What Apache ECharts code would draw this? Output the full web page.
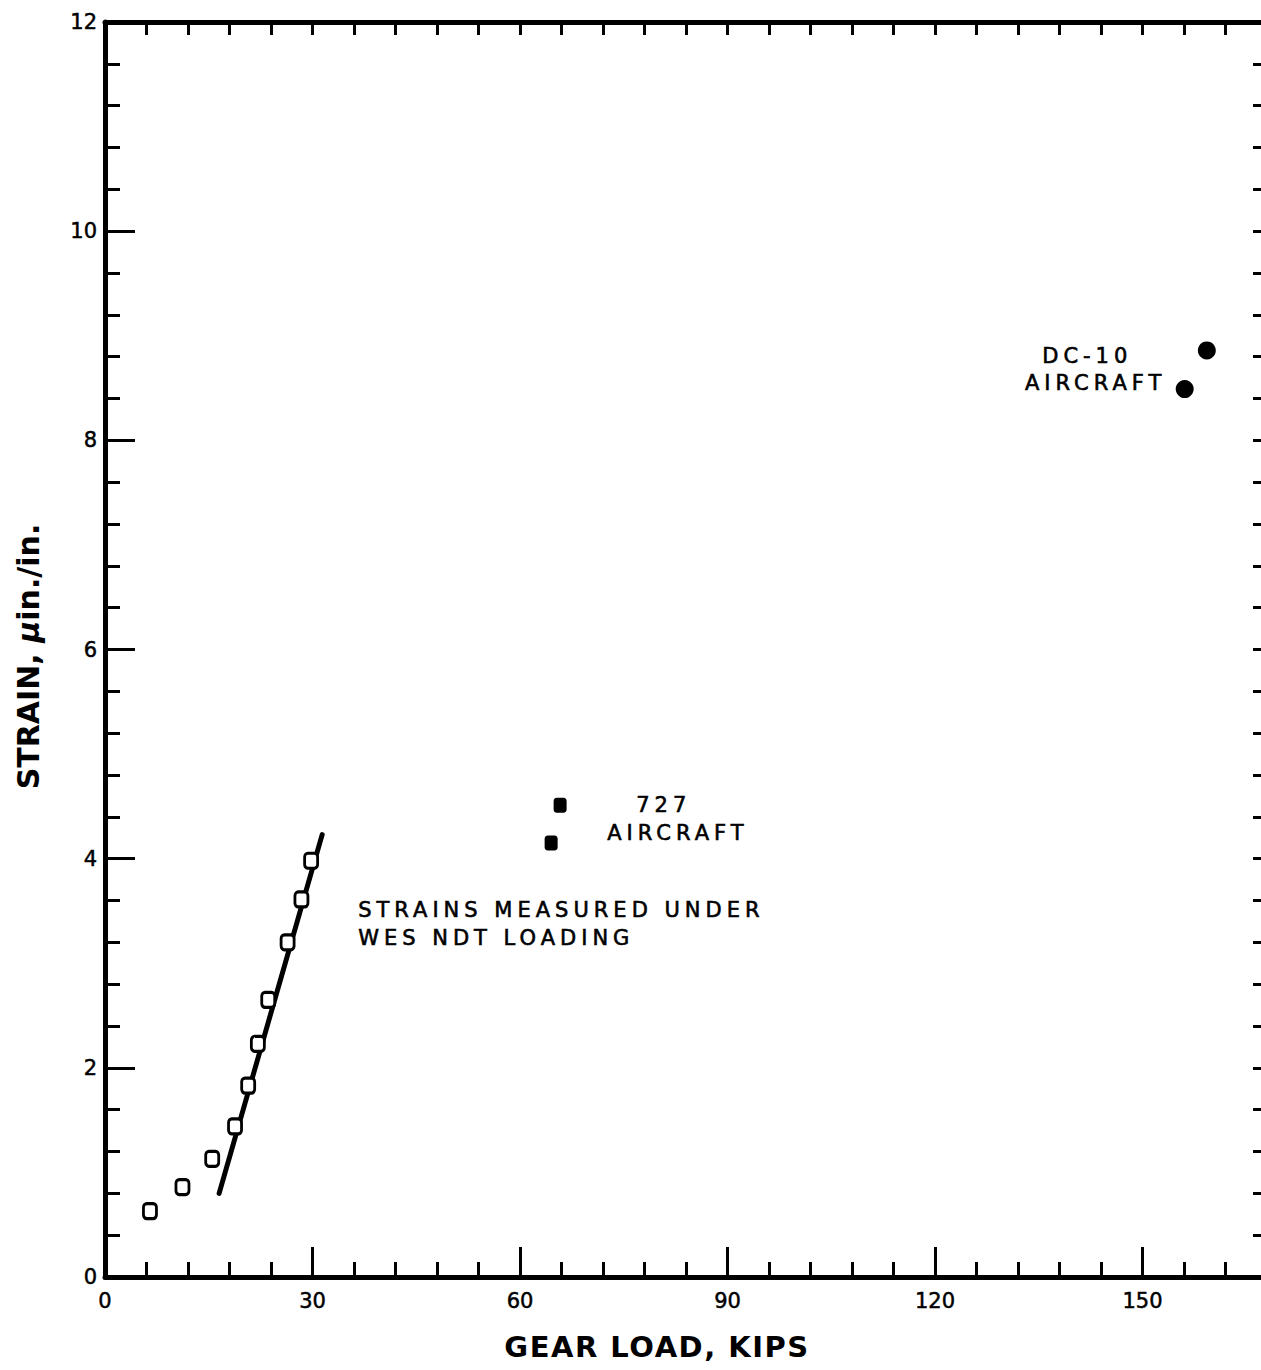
<!DOCTYPE html>
<html>
<head>
<meta charset="utf-8">
<script src="https://cdn.jsdelivr.net/npm/echarts@6/dist/echarts.min.js"></script>
<style>
  html, body { margin: 0; padding: 0; background: #fff; }
  #chart { width: 1261px; height: 1370px; }
</style>
</head>
<body>
<div id="chart"></div>
<script>
// Strains measured under WES NDT loading (open squares)
const ndtLoad   = [6.5, 11.2, 15.5, 18.8, 20.7, 22.1, 23.6, 26.4, 28.4, 29.8];
const ndtStrain = [0.63, 0.86, 1.13, 1.44, 1.83, 2.23, 2.65, 3.20, 3.61, 3.98];

// Straight-line fit through the upper NDT points
const fitLoad   = [16.5, 31.4];
const fitStrain = [0.80, 4.23];

// Aircraft passes
const b727Load   = [65.8, 64.5];
const b727Strain = [4.51, 4.15];
const dc10Load   = [159.3, 156.1];
const dc10Strain = [8.86, 8.49];

// Tick labels
const xTickLabels = [0, 30, 60, 90, 120, 150];
const yTickLabels = [0, 2, 4, 6, 8, 10, 12];

// Text notes, anchored by their left end in data units
const notes = [
  { text: '727',                    load: 76.8,  strain: 4.51 },
  { text: 'AIRCRAFT',               load: 72.6,  strain: 4.25 },
  { text: 'STRAINS MEASURED UNDER', load: 36.6,  strain: 3.51 },
  { text: 'WES NDT LOADING',        load: 36.6,  strain: 3.24 },
  { text: 'DC-10',                  load: 135.5, strain: 8.81 },
  { text: 'AIRCRAFT',               load: 133.0, strain: 8.55 }
];

const FONT = "'DejaVu Sans', sans-serif";
const INK = '#000';
const pairs = (xs, ys) => xs.map((x, i) => [x, ys[i]]);

const chart = echarts.init(document.getElementById('chart'), null, { renderer: 'svg', width: 1261, height: 1370 });

// The frame runs a few pixels past the right edge of the page.
const box = { left: 105, right: -6, top: 22, bottom: 93, outerBoundsMode: 'none', containLabel: false };
const xRange = { type: 'value', min: 0, max: 168 };
const yRange = { type: 'value', min: 0, max: 12 };
const noSplit = { splitLine: { show: false } };
const frameLine = { show: true, onZero: false, lineStyle: { color: INK, width: 5 } };
const hiddenLine = { show: false, onZero: false };
const tick = len => ({ show: true, inside: true, length: len, lineStyle: { color: INK, width: 3 } });
const tickText = { color: INK, fontFamily: FONT, fontSize: 21, textBorderColor: INK, textBorderWidth: 0.5 };

const option = {
  backgroundColor: '#fff',
  animation: false,
  grid: [Object.assign({}, box), Object.assign({}, box), Object.assign({}, box)],
  xAxis: [
    Object.assign({ gridIndex: 0, position: 'bottom', interval: 6,
      axisLine: frameLine, axisTick: tick(15), axisLabel: { show: false } }, xRange, noSplit),
    Object.assign({ gridIndex: 1, position: 'bottom', interval: 30,
      axisLine: hiddenLine, axisTick: tick(30),
      axisLabel: Object.assign({ show: true, margin: 13, showMaxLabel: false,
        formatter: v => (xTickLabels.indexOf(v) >= 0 ? String(v) : '') }, tickText),
      name: 'GEAR LOAD, KIPS', nameLocation: 'middle', nameGap: 55,
      nameTextStyle: { color: INK, fontFamily: FONT, fontSize: 29, fontWeight: 'bold', padding: [0, 58, 0, 0] }
    }, xRange, noSplit),
    Object.assign({ gridIndex: 2, position: 'top', interval: 6,
      axisLine: frameLine, axisTick: tick(13), axisLabel: { show: false } }, xRange, noSplit)
  ],
  yAxis: [
    Object.assign({ gridIndex: 0, position: 'left', interval: 0.4,
      axisLine: frameLine, axisTick: tick(15), axisLabel: { show: false } }, yRange, noSplit),
    Object.assign({ gridIndex: 1, position: 'left', interval: 2,
      axisLine: hiddenLine, axisTick: tick(30),
      axisLabel: Object.assign({ show: true, margin: 8,
        formatter: v => (yTickLabels.indexOf(v) >= 0 ? String(v) : '') }, tickText),
      name: '{t|STRAIN, }{mu|\u03bc}{t|in./in.}', nameLocation: 'middle', nameGap: 62,
      nameTextStyle: {
        padding: [0, 14, 0, 0],
        rich: {
          t:  { color: INK, fontFamily: FONT, fontSize: 30, fontWeight: 'bold' },
          mu: { color: INK, fontFamily: FONT, fontSize: 30, fontWeight: 'bold', fontStyle: 'italic' }
        }
      }
    }, yRange, noSplit),
    Object.assign({ gridIndex: 2, position: 'right', interval: 0.4,
      axisLine: frameLine, axisTick: tick(14), axisLabel: { show: false } }, yRange, noSplit)
  ],
  series: [
    {
      name: 'fit', type: 'line', xAxisIndex: 0, yAxisIndex: 0,
      data: pairs(fitLoad, fitStrain), symbol: 'none', silent: true, z: 3,
      lineStyle: { color: INK, width: 5, cap: 'round' }
    },
    {
      name: 'WES NDT', type: 'scatter', xAxisIndex: 0, yAxisIndex: 0,
      data: pairs(ndtLoad, ndtStrain), symbol: 'roundRect', symbolSize: [13, 15], z: 4,
      itemStyle: { color: '#fff', borderColor: INK, borderWidth: 3, opacity: 1 }
    },
    {
      name: '727', type: 'scatter', xAxisIndex: 0, yAxisIndex: 0,
      data: pairs(b727Load, b727Strain), symbol: 'roundRect', symbolSize: [13, 15], z: 4,
      itemStyle: { color: INK, opacity: 1 }
    },
    {
      name: 'DC-10', type: 'scatter', xAxisIndex: 0, yAxisIndex: 0,
      data: pairs(dc10Load, dc10Strain), symbol: 'circle', symbolSize: 18, z: 4,
      itemStyle: { color: INK, opacity: 1 }
    },
    {
      name: 'notes', type: 'scatter', xAxisIndex: 0, yAxisIndex: 0, silent: true, z: 5,
      symbolSize: 0, itemStyle: { opacity: 1 },
      data: notes.map(n => ({ name: n.text, value: [n.load, n.strain] })),
      label: { show: true, position: 'right', distance: 0, formatter: '{b}',
        color: INK, fontFamily: FONT, fontSize: 21, textBorderColor: INK, textBorderWidth: 0.6 }
    }
  ]
};

chart.setOption(option);

// Lettering is widely spaced; widen the SVG text runs accordingly.
const noteTexts = notes.map(n => n.text);
function spaceLettering() {
  document.querySelectorAll('#chart svg text').forEach(t => {
    const s = t.textContent;
    if (noteTexts.indexOf(s) >= 0) t.style.letterSpacing = '5px';
    else if (s === 'GEAR LOAD, KIPS') t.style.letterSpacing = '1.5px';
  });
}
chart.on('finished', spaceLettering);
chart.on('rendered', spaceLettering);
setTimeout(spaceLettering, 50);
</script>
</body>
</html>
